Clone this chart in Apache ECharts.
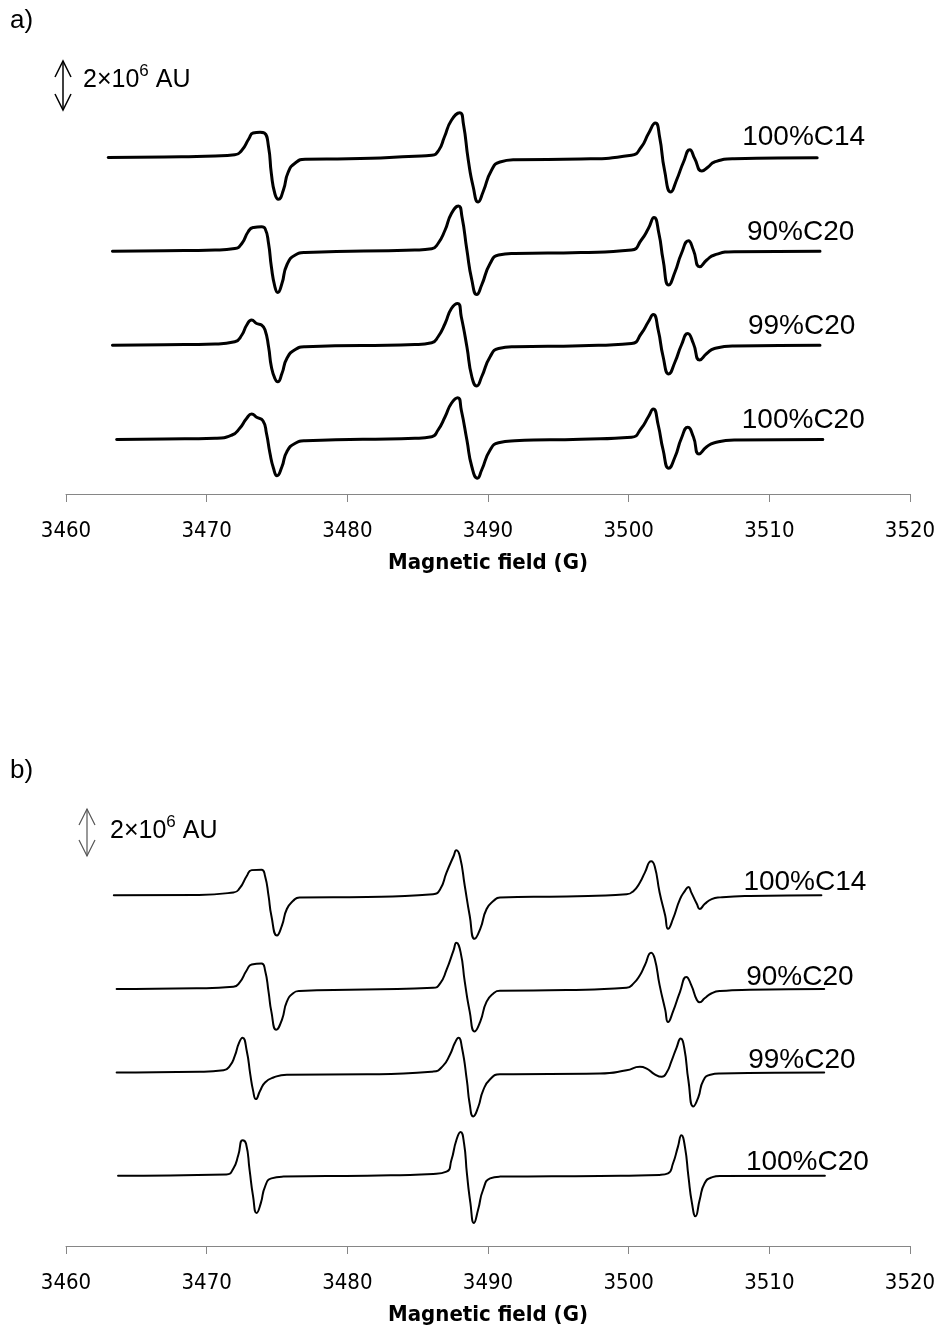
<!DOCTYPE html>
<html>
<head>
<meta charset="utf-8">
<script src="https://cdn.jsdelivr.net/npm/echarts@6/dist/echarts.min.js"></script>
<style>
  html, body { margin: 0; padding: 0; background: #fff; }
  #main { width: 945px; height: 1327px; }
</style>
</head>
<body>
<div id="main"></div>
<script>
// x ticks (G)
var fieldTicks = [3460, 3470, 3480, 3490, 3500, 3510, 3520];
var sampleNames = ['100%C14', '90%C20', '99%C20', '100%C20'];

// baseline offsets of the stacked spectra, in 10^6 AU
var offsetsA = [13.48, 9.73, 5.97, 2.2];
var offsetsB = [14.16, 10.37, 7.0, 2.84];

// panel a) spectra: [field (G), signal (10^6 AU) relative to baseline]
var aC14 = [[3463.0,-0.02],[3467.0,0.0],[3470.6,0.04],[3472.0,0.09],[3472.5,0.27],[3473.0,0.73],[3473.3,0.96],[3473.8,0.99],[3474.1,0.96],[3474.4,0.40],[3474.6,-0.67],[3474.85,-1.47],[3475.1,-1.69],[3475.45,-1.33],[3475.8,-0.60],[3476.3,-0.24],[3477.0,-0.09],[3480.1,-0.07],[3484.8,0.03],[3486.0,0.07],[3486.5,0.27],[3486.9,0.80],[3487.4,1.47],[3488.0,1.77],[3488.25,1.33],[3488.6,-0.13],[3488.95,-1.20],[3489.3,-1.80],[3489.65,-1.40],[3490.25,-0.53],[3490.85,-0.20],[3491.9,-0.11],[3496.6,-0.08],[3500.2,0.07],[3500.9,0.40],[3501.4,0.93],[3501.9,1.36],[3502.2,0.80],[3502.55,-0.53],[3503.0,-1.40],[3503.4,-0.93],[3503.9,-0.20],[3504.35,0.29],[3504.7,-0.07],[3505.2,-0.56],[3505.65,-0.40],[3506.1,-0.20],[3507.5,-0.07],[3513.4,-0.03]];
var a90 = [[3463.3,-0.02],[3467.0,0.0],[3470.6,0.03],[3472.0,0.09],[3472.5,0.29],[3472.95,0.76],[3473.3,0.93],[3473.9,0.96],[3474.15,0.89],[3474.4,0.29],[3474.6,-0.64],[3474.85,-1.44],[3475.05,-1.67],[3475.35,-1.31],[3475.7,-0.57],[3476.3,-0.17],[3477.0,-0.07],[3484.8,0.03],[3486.0,0.08],[3486.45,0.29],[3486.95,0.83],[3487.4,1.49],[3487.9,1.79],[3488.15,1.36],[3488.5,0.03],[3488.85,-1.17],[3489.2,-1.75],[3489.55,-1.37],[3490.15,-0.51],[3490.75,-0.17],[3491.9,-0.11],[3496.6,-0.07],[3500.2,0.03],[3500.9,0.43],[3501.4,0.89],[3501.8,1.33],[3502.15,0.69],[3502.45,-0.37],[3502.85,-1.37],[3503.3,-0.84],[3503.75,-0.11],[3504.25,0.40],[3504.6,0.03],[3505.05,-0.64],[3505.55,-0.37],[3506.1,-0.17],[3507.5,-0.04],[3513.6,-0.02]];
var a99 = [[3463.3,-0.02],[3467.0,0.0],[3470.6,0.03],[3472.0,0.12],[3472.5,0.39],[3472.85,0.79],[3473.2,0.99],[3473.55,0.85],[3473.9,0.79],[3474.15,0.59],[3474.4,-0.08],[3474.6,-0.88],[3474.85,-1.35],[3475.05,-1.48],[3475.35,-1.15],[3475.7,-0.55],[3476.3,-0.19],[3477.0,-0.08],[3484.8,0.01],[3486.0,0.08],[3486.45,0.32],[3486.95,0.85],[3487.4,1.45],[3487.85,1.65],[3488.1,1.12],[3488.5,-0.08],[3488.85,-1.28],[3489.2,-1.65],[3489.55,-1.28],[3490.15,-0.48],[3490.75,-0.15],[3491.9,-0.08],[3496.6,-0.04],[3500.2,0.05],[3500.9,0.45],[3501.4,0.92],[3501.75,1.21],[3502.1,0.59],[3502.45,-0.48],[3502.85,-1.17],[3503.3,-0.68],[3503.75,-0.01],[3504.2,0.45],[3504.6,0.05],[3505.05,-0.61],[3505.55,-0.35],[3506.1,-0.15],[3507.5,-0.05],[3513.6,-0.02]];
var a100 = [[3463.6,-0.02],[3467.0,0.0],[3470.6,0.03],[3471.8,0.16],[3472.35,0.43],[3472.85,0.83],[3473.2,1.00],[3473.55,0.87],[3474.0,0.73],[3474.25,0.23],[3474.5,-0.57],[3474.75,-1.17],[3475.0,-1.47],[3475.35,-1.11],[3475.7,-0.51],[3476.3,-0.17],[3477.0,-0.07],[3484.8,0.03],[3486.0,0.09],[3486.45,0.36],[3486.95,0.89],[3487.4,1.43],[3487.85,1.65],[3488.1,1.16],[3488.5,-0.04],[3488.85,-1.11],[3489.25,-1.57],[3489.55,-1.24],[3490.15,-0.44],[3490.75,-0.15],[3491.9,-0.07],[3496.6,-0.01],[3500.2,0.07],[3500.9,0.43],[3501.4,0.89],[3501.75,1.20],[3502.1,0.56],[3502.45,-0.44],[3502.85,-1.17],[3503.3,-0.71],[3503.75,0.03],[3504.2,0.47],[3504.6,0.09],[3505.0,-0.60],[3505.55,-0.31],[3506.1,-0.15],[3507.5,-0.04],[3513.8,-0.02]];

// panel b) spectra
var bC14 = [[3463.4,0.0],[3469.3,0.01],[3471.9,0.11],[3472.35,0.28],[3472.85,0.77],[3473.2,1.01],[3473.9,1.03],[3474.15,0.77],[3474.4,-0.03],[3474.6,-0.83],[3475.0,-1.63],[3475.35,-1.23],[3475.7,-0.56],[3476.15,-0.23],[3476.6,-0.09],[3481.4,-0.07],[3486.1,0.04],[3486.6,0.24],[3487.05,0.91],[3487.55,1.57],[3487.75,1.81],[3488.0,1.57],[3488.35,0.37],[3488.7,-0.83],[3489.05,-1.76],[3489.45,-1.36],[3489.9,-0.56],[3490.4,-0.23],[3490.85,-0.09],[3495.6,-0.05],[3499.85,0.04],[3500.35,0.17],[3500.8,0.51],[3501.15,0.91],[3501.6,1.37],[3501.85,1.17],[3502.2,0.11],[3502.6,-0.83],[3502.8,-1.36],[3503.15,-0.96],[3503.65,-0.16],[3504.0,0.17],[3504.25,0.33],[3504.45,0.11],[3504.85,-0.36],[3505.05,-0.56],[3505.4,-0.36],[3505.9,-0.16],[3506.5,-0.09],[3508.6,-0.03],[3513.7,0.0]];
var b90 = [[3463.6,0.0],[3469.3,0.03],[3471.9,0.09],[3472.35,0.27],[3472.85,0.76],[3473.2,0.99],[3473.9,1.03],[3474.15,0.76],[3474.4,-0.11],[3474.6,-0.91],[3474.95,-1.64],[3475.35,-1.24],[3475.7,-0.51],[3476.15,-0.17],[3476.6,-0.08],[3486.1,0.05],[3486.6,0.23],[3487.05,0.77],[3487.55,1.56],[3487.75,1.87],[3488.05,1.49],[3488.35,0.29],[3488.7,-0.91],[3489.05,-1.71],[3489.45,-1.31],[3489.9,-0.51],[3490.4,-0.17],[3490.85,-0.07],[3495.6,-0.04],[3499.85,0.05],[3500.35,0.23],[3500.8,0.56],[3501.15,0.96],[3501.6,1.47],[3501.85,1.23],[3502.2,0.16],[3502.6,-0.84],[3502.8,-1.33],[3503.15,-0.91],[3503.65,-0.11],[3504.1,0.49],[3504.45,0.16],[3504.85,-0.44],[3505.05,-0.53],[3505.4,-0.37],[3505.9,-0.17],[3506.5,-0.08],[3508.6,-0.03],[3513.9,0.0]];
var b99 = [[3463.6,0.0],[3469.5,0.03],[3471.2,0.09],[3471.65,0.27],[3472.0,0.67],[3472.3,1.20],[3472.55,1.40],[3472.85,0.87],[3473.1,-0.07],[3473.3,-0.73],[3473.5,-1.07],[3473.8,-0.73],[3474.15,-0.40],[3474.75,-0.20],[3475.7,-0.09],[3481.4,-0.07],[3486.1,0.04],[3486.8,0.27],[3487.3,0.73],[3487.65,1.20],[3487.9,1.40],[3488.15,1.00],[3488.5,-0.33],[3488.7,-1.27],[3488.95,-1.77],[3489.3,-1.40],[3489.65,-0.73],[3490.15,-0.27],[3490.85,-0.07],[3497.95,-0.04],[3499.85,0.09],[3500.8,0.23],[3501.25,0.17],[3501.85,-0.07],[3502.35,-0.17],[3502.7,0.0],[3503.05,0.47],[3503.4,1.00],[3503.7,1.37],[3503.95,1.00],[3504.25,-0.33],[3504.6,-1.37],[3504.95,-1.00],[3505.3,-0.33],[3505.8,-0.09],[3506.5,-0.04],[3513.9,0.0]];
var b100 = [[3463.7,0.0],[3471.4,0.05],[3471.9,0.29],[3472.25,0.83],[3472.55,1.43],[3472.8,1.29],[3473.05,0.23],[3473.3,-0.84],[3473.55,-1.51],[3473.85,-1.11],[3474.15,-0.44],[3474.6,-0.11],[3475.45,-0.04],[3481.4,0.0],[3486.1,0.07],[3487.05,0.16],[3487.4,0.63],[3487.75,1.43],[3488.05,1.76],[3488.3,1.29],[3488.5,0.09],[3488.75,-1.11],[3489.0,-1.91],[3489.3,-1.37],[3489.65,-0.57],[3490.15,-0.11],[3490.85,-0.04],[3497.95,-0.01],[3502.2,0.03],[3502.8,0.09],[3503.15,0.49],[3503.5,1.16],[3503.75,1.63],[3504.0,1.16],[3504.25,-0.04],[3504.5,-1.11],[3504.75,-1.64],[3505.05,-0.97],[3505.4,-0.31],[3505.9,-0.07],[3506.5,-0.01],[3513.95,0.0]];

var spectraA = [aC14, a90, a99, a100];
var spectraB = [bC14, b90, b99, b100];

var FONT = "'Liberation Sans', Arial, sans-serif";
var NARROW = "'Liberation Sans Narrow', 'DejaVu Sans Condensed', sans-serif";

var chart = echarts.init(document.getElementById('main'));

function shift(points, off) {
  return points.map(function (p) { return [p[0], p[1] + off]; });
}

// label offsets from the end of each trace (px)
var labelOffA = [[-83, -20], [-81, -19], [-80, -19], [-89, -19]];
var labelOffB = [[-86, -13], [-86, -12], [-84, -12], [-87, -13]];

function makeSeries(list, offs, idx, width, labelOff) {
  return list.map(function (pts, i) {
    return {
      name: sampleNames[i],
      type: 'line',
      xAxisIndex: idx,
      yAxisIndex: idx,
      data: shift(pts, offs[i]),
      showSymbol: false,
      smooth: 0.55,
      lineStyle: { color: '#000', width: width, join: 'round', cap: 'round' },
      endLabel: {
        show: true,
        formatter: '{a}',
        color: '#000',
        fontSize: 28,
        fontFamily: FONT,
        offset: labelOff[i]
      }
    };
  });
}

function xAx(idx) {
  return {
    type: 'value',
    gridIndex: idx,
    min: fieldTicks[0],
    max: fieldTicks[fieldTicks.length - 1],
    interval: 10,
    name: 'Magnetic field (G)',
    nameLocation: 'middle',
    nameGap: 58,
    nameTextStyle: { color: '#000', fontSize: 22, fontWeight: 'bold', fontFamily: NARROW },
    axisLine: { show: true, onZero: false, lineStyle: { color: '#868686', width: 1 } },
    axisTick: { show: true, length: 8, lineStyle: { color: '#868686' } },
    axisLabel: {
      color: '#000', fontSize: 22, margin: 26, fontFamily: NARROW,
      formatter: function (v) { return String(v); }
    },
    splitLine: { show: false }
  };
}

function yAx(idx) {
  return { type: 'value', gridIndex: idx, min: 0, max: 18, show: false };
}

function arrow(x, y1, y2, color, w) {
  var hw = 8, hl = 16;
  return [
    { type: 'line', shape: { x1: x, y1: y1, x2: x, y2: y2 }, style: { stroke: color, lineWidth: w } },
    { type: 'polyline', shape: { points: [[x - hw, y1 + hl], [x, y1], [x + hw, y1 + hl]] }, style: { stroke: color, lineWidth: w, fill: null } },
    { type: 'polyline', shape: { points: [[x - hw, y2 - hl], [x, y2], [x + hw, y2 - hl]] }, style: { stroke: color, lineWidth: w, fill: null } }
  ];
}

function scaleText(x, y) {
  return {
    type: 'text', left: x, top: y,
    style: {
      text: '{n|2×10}{s|6}{n| AU}',
      rich: {
        n: { fontSize: 25, lineHeight: 30, fontFamily: FONT, fill: '#000', verticalAlign: 'bottom' },
        s: { fontSize: 17, lineHeight: 30, fontFamily: FONT, fill: '#000', verticalAlign: 'top' }
      }
    }
  };
}

var graphics = [
  { type: 'text', left: 10, top: 8, style: { text: 'a)', fontSize: 26, fontFamily: FONT, fill: '#000' } },
  { type: 'text', left: 10, top: 758, style: { text: 'b)', fontSize: 26, fontFamily: FONT, fill: '#000' } },
  scaleText(83, 63),
  scaleText(110, 814)
].concat(arrow(63, 61, 110, '#000', 1.5)).concat(arrow(87, 809, 856, '#555', 1.2));

chart.setOption({
  animation: false,
  backgroundColor: '#fff',
  grid: [
    { left: 66, right: 35, top: 44, height: 450 },
    { left: 66, right: 35, top: 800, height: 450 }
  ],
  xAxis: [xAx(0), xAx(1)],
  yAxis: [yAx(0), yAx(1)],
  series: makeSeries(spectraA, offsetsA, 0, 3, labelOffA).concat(makeSeries(spectraB, offsetsB, 1, 2, labelOffB)),
  graphic: graphics
});
</script>
</body>
</html>
